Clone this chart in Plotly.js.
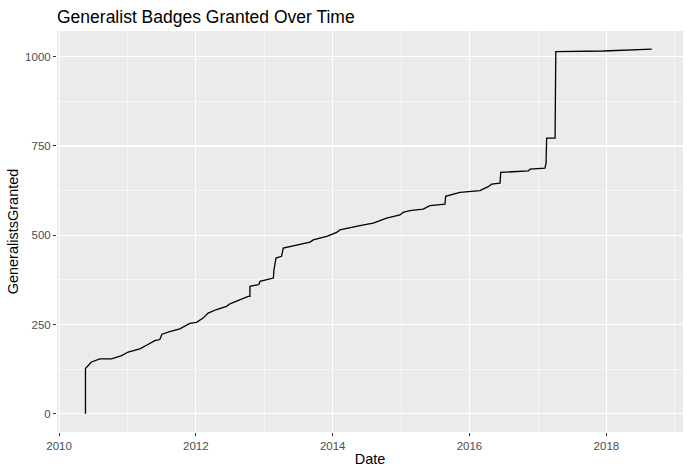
<!DOCTYPE html>
<html>
<head>
<meta charset="utf-8">
<script src="https://cdn.plot.ly/plotly-3.0.1.min.js"></script>
<style>html,body{margin:0;padding:0;background:#fff;}#chart{width:688px;height:476px;}</style>
</head>
<body>
<div id="chart"></div>
<script>
const dates = [
  "2010-05-22","2010-05-22","2010-06-23","2010-08-07","2010-10-08","2010-12-01",
  "2011-01-05","2011-03-08","2011-04-13","2011-05-27","2011-06-23","2011-07-04",
  "2011-08-15","2011-10-08","2011-11-30","2012-01-05","2012-02-09","2012-03-07",
  "2012-04-21","2012-06-13","2012-07-01","2012-09-02","2012-10-07","2012-10-16",
  "2012-10-16","2012-12-03","2012-12-09","2013-02-18","2013-02-21","2013-03-04",
  "2013-04-03","2013-04-12","2013-06-13","2013-09-02","2013-09-19","2013-11-30",
  "2014-01-22","2014-02-08","2014-05-26","2014-08-05","2014-10-16","2014-12-26",
  "2015-01-12","2015-02-17","2015-04-29","2015-06-04","2015-08-23","2015-08-27",
  "2015-11-11","2016-02-26","2016-04-10","2016-04-28","2016-06-12","2016-06-16",
  "2016-11-10","2016-11-19","2017-02-07","2017-02-13","2017-02-16","2017-04-02",
  "2017-04-06","2017-12-16","2018-08-31"
];
const granted = [
  0,127,145,154,154,163,
  173,182,192,205,208,223,
  230,238,253,256,268,282,
  292,301,308,322,329,329,
  357,362,371,380,402,436,
  441,464,471,481,487,497,
  508,515,527,534,548,557,
  564,569,573,583,587,609,
  620,625,636,643,646,676,
  680,685,688,702,772,772,
  1014,1016,1021
];
const titleText = "Generalist Badges Granted Over Time";
const xTitle = "Date";
const yTitle = "GeneralistsGranted";

const trace = {
  x: dates, y: granted, type: "scatter", mode: "lines",
  line: {color: "#000000", width: 1.3},
  hoverinfo: "skip"
};
const tickFont = {family: "Liberation Sans, Arial, sans-serif", size: 11.5, color: "#4D4D4D"};
const layout = {
  width: 688, height: 476,
  margin: {l: 57, r: 5, t: 31, b: 44},
  paper_bgcolor: "#FFFFFF",
  plot_bgcolor: "#EBEBEB",
  showlegend: false,
  font: {family: "Liberation Sans, Arial, sans-serif", color: "#000000"},
  title: {
    text: titleText, font: {size: 17.5, color: "#000000"},
    xref: "paper", x: 0, xanchor: "left",
    yref: "container", y: 0.964, yanchor: "middle"
  },
  xaxis: {
    type: "date",
    range: ["2009-12-21", "2019-02-14"],
    tick0: "2010-01-01", dtick: "M24", tickformat: "%Y",
    ticks: "outside", ticklen: 3, tickwidth: 1, tickcolor: "#333333",
    tickfont: tickFont,
    showgrid: true, gridcolor: "#FFFFFF", gridwidth: 1.1,
    minor: {dtick: "M12", tick0: "2010-01-01", showgrid: true, gridcolor: "#FFFFFF", gridwidth: 0.55},
    zeroline: false, showline: false,
    title: {text: xTitle, font: {size: 14.5, color: "#000000"}, standoff: 3}
  },
  yaxis: {
    range: [-51, 1072],
    tick0: 0, dtick: 250,
    ticks: "outside", ticklen: 3, tickwidth: 1, tickcolor: "#333333",
    tickfont: tickFont,
    showgrid: true, gridcolor: "#FFFFFF", gridwidth: 1.1,
    minor: {dtick: 125, tick0: 0, showgrid: true, gridcolor: "#FFFFFF", gridwidth: 0.55},
    zeroline: false, showline: false,
    title: {text: yTitle, font: {size: 14.5, color: "#000000"}, standoff: 3}
  }
};
Plotly.newPlot("chart", [trace], layout, {staticPlot: true, displayModeBar: false});
</script>
</body>
</html>
